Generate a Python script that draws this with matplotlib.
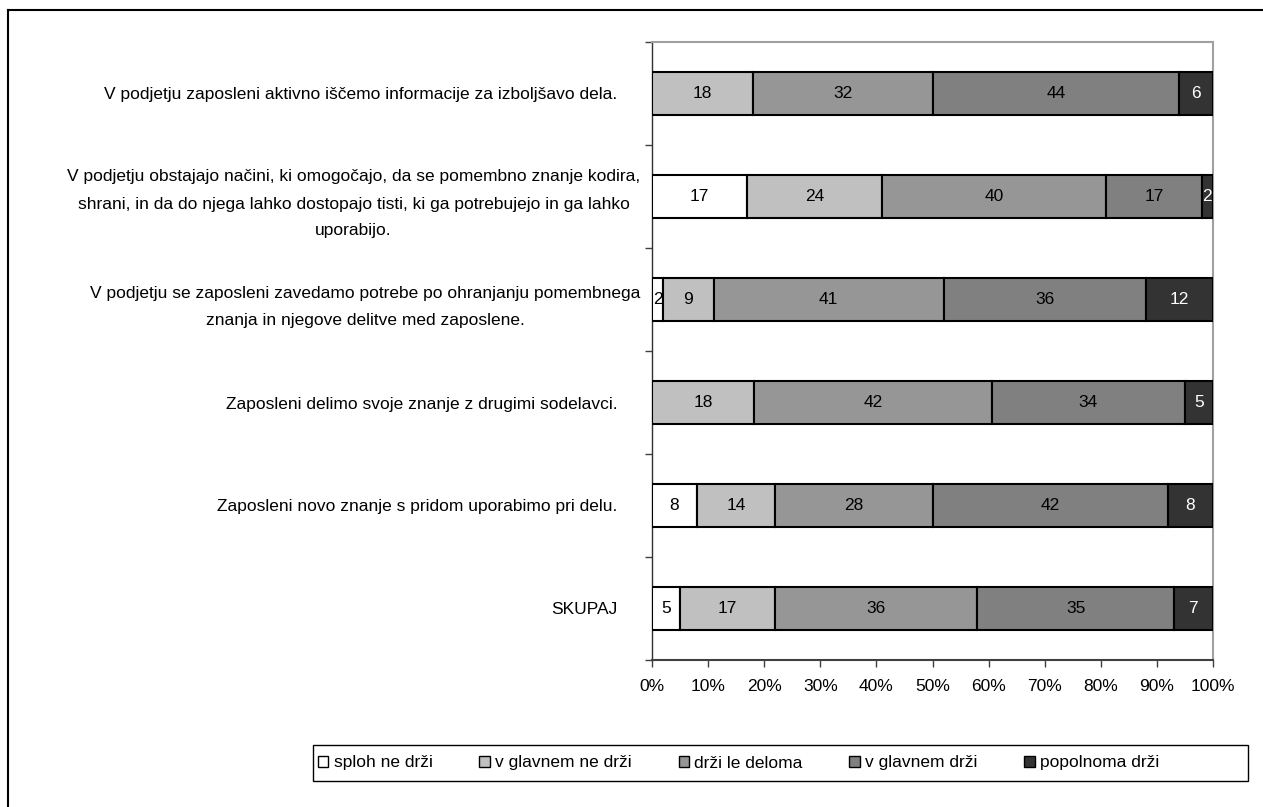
import matplotlib
matplotlib.use("Agg")
import matplotlib.pyplot as plt
from matplotlib.patches import Patch, Rectangle
from matplotlib.lines import Line2D
import numpy as np

plt.rcParams['font.family'] = ['Liberation Sans', 'DejaVu Sans']

# Statements (top to bottom) and answer shares in percent
categories = [
    "V podjetju zaposleni aktivno iščemo informacije za izboljšavo dela.",
    "V podjetju obstajajo načini, ki omogočajo, da se pomembno znanje kodira,\n"
    "shrani, in da do njega lahko dostopajo tisti, ki ga potrebujejo in ga lahko\n"
    "uporabijo.",
    "V podjetju se zaposleni zavedamo potrebe po ohranjanju pomembnega\n"
    "znanja in njegove delitve med zaposlene.",
    "Zaposleni delimo svoje znanje z drugimi sodelavci.",
    "Zaposleni novo znanje s pridom uporabimo pri delu.",
    "SKUPAJ",
]
series_names = ["sploh ne drži", "v glavnem ne drži", "drži le deloma",
                "v glavnem drži", "popolnoma drži"]
sploh_ne = [0, 17, 2, 0, 8, 5]
v_glavnem_ne = [18, 24, 9, 18, 14, 17]
le_deloma = [32, 40, 41, 42, 28, 36]
v_glavnem = [44, 17, 36, 34, 42, 35]
popolnoma = [6, 2, 12, 5, 8, 7]
x_ticks = list(range(0, 101, 10))

series = [sploh_ne, v_glavnem_ne, le_deloma, v_glavnem, popolnoma]
colors = ["#FFFFFF", "#C0C0C0", "#969696", "#808080", "#333333"]
text_colors = ["black", "black", "black", "black", "white"]
FS = 12.5

fig = plt.figure(figsize=(12.63, 8.07), dpi=100)
ax = fig.add_axes([652 / 1263, 1 - 660 / 807, (1213 - 652) / 1263, (660 - 42) / 807])

data = np.array(series, dtype=float)
totals = data.sum(axis=0)
shares = data / totals * 100

n = len(categories)
ypos = np.arange(n)[::-1]
left = np.zeros(n)
for k in range(len(series)):
    ax.barh(ypos, shares[k], left=left, height=0.41, color=colors[k],
            edgecolor="black", linewidth=1.5, zorder=3)
    for i in range(n):
        v = data[k][i]
        if v > 0:
            ax.text(left[i] + shares[k][i] / 2, ypos[i], f"{int(v)}",
                    ha="center", va="center", fontsize=FS,
                    color=text_colors[k], zorder=4)
    left += shares[k]

ax.set_xlim(0, 100)
ax.set_ylim(-0.5, n - 0.5)
ax.set_xticks(x_ticks)
ax.set_xticklabels([f"{t}%" for t in x_ticks], fontsize=FS)
ax.tick_params(axis="x", direction="out", length=5, width=1, color="#404040", pad=9)

ax.set_yticks(ypos)
ax.set_yticklabels(categories, fontsize=FS, multialignment="center", linespacing=2.0)
ax.tick_params(axis="y", which="major", length=0, pad=25)
ax.set_yticks(np.arange(-0.5, n, 1.0), minor=True)
ax.tick_params(axis="y", which="minor", direction="out", length=5, width=1, color="#404040")
for i, t in enumerate(ax.yaxis.get_major_ticks()):
    if "\n" in categories[i]:
        t.set_pad(8.5)

for side in ("top", "right"):
    ax.spines[side].set_color("#A0A0A0")
    ax.spines[side].set_linewidth(1.5)
ax.spines["left"].set_color("#303030")
ax.spines["left"].set_linewidth(1.0)
ax.spines["bottom"].set_color("#404040")
ax.spines["bottom"].set_linewidth(1.5)

# Legend box and entries
fig.add_artist(Rectangle((313 / 1263, 1 - 781 / 807), (1248 - 313) / 1263, 36 / 807,
                         transform=fig.transFigure, facecolor="white",
                         edgecolor="black", linewidth=1.0))
handles = [Patch(facecolor=c, edgecolor="black", linewidth=1.0) for c in colors]
leg = fig.legend(handles, series_names, ncol=5, loc="center left",
                 bbox_to_anchor=(318 / 1263, 1 - 763 / 807),
                 fontsize=FS, frameon=False,
                 handlelength=0.6, handleheight=0.6, handletextpad=0.3,
                 columnspacing=2.7, borderaxespad=0.0, borderpad=0.0)

# Frame around the chart area
fig.add_artist(Line2D([8 / 1263, 8 / 1263], [0, 1 - 10 / 807], transform=fig.transFigure,
                      color="black", linewidth=1.5))
fig.add_artist(Line2D([8 / 1263, 1], [1 - 10 / 807, 1 - 10 / 807], transform=fig.transFigure,
                      color="black", linewidth=1.5))

fig.savefig("out.png", dpi=100)
